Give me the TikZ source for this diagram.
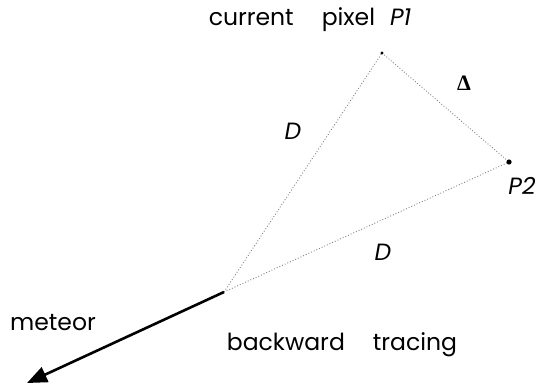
\documentclass[tikz,border=0pt]{standalone}
\usepackage{fontspec}
\setmainfont{Poppins}
\newfontfamily\deltafont{Liberation Serif}
\usetikzlibrary{arrows.meta,positioning,calc}
\definecolor{ink}{HTML}{000000}
\definecolor{dots}{HTML}{808080}
\tikzset{lbl/.style={font=\fontsize{23.5}{28}\selectfont,inner sep=0pt,text=ink},
 ray/.style={draw=dots,dotted,line width=0.9pt},
 meteorarrow/.style={-{Triangle[length=20pt,width=16pt]},draw=ink,line width=2.6pt}}

\begin{document}
\begin{tikzpicture}[x=1pt,y=-1pt]
\useasboundingbox (0,0) rectangle (537,385);
\coordinate (src) at (224,292);
\coordinate (p1) at (382,53);
\coordinate (p2) at (509,162);
\coordinate (tip) at (27,383);
\draw[ray] (src)--(p1);
\draw[ray] (src)--(p2);
\draw[ray] (p1)--(p2);
\fill[ink] (p1) circle (1.6);
\fill[ink] (p2) circle (2.6);
\draw[meteorarrow] (src)--(tip);
\node[lbl] (title) at (310,20) {current\hspace{28pt}pixel\hspace{15pt}\textit{P1}};
\node[lbl] (delta) at (464,83) {\deltafont\bfseries\fontsize{22}{26}\selectfont Δ};
\node[lbl] (dleft) at (293,131) {\textit{D}};
\node[lbl] (p2lbl) at (522,186) {\textit{P2}};
\node[lbl] (dright) at (383,252) {\textit{D}};
\node[lbl] (meteor) at (53,323) {meteor};
\node[lbl] (trace) at (342,345) {backward\hspace{28pt}tracing};
\end{tikzpicture}
\end{document}
